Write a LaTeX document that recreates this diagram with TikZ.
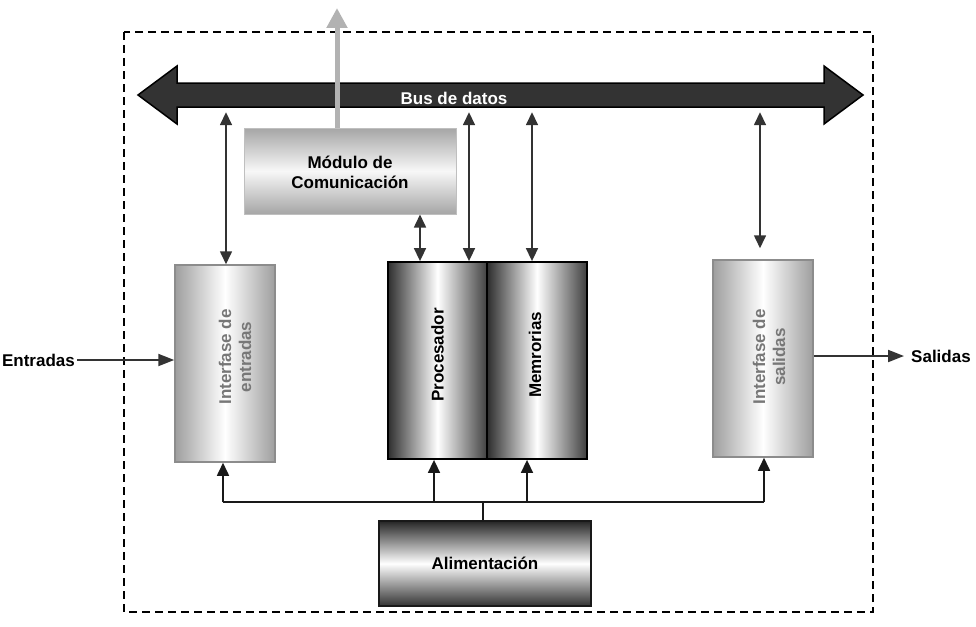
\documentclass[tikz,border=0pt]{standalone}
\usepackage{fontspec}
\setmainfont{Liberation Sans}
\usetikzlibrary{arrows.meta,calc}
\definecolor{busfill}{HTML}{333333}
\definecolor{linec}{HTML}{333333}
\definecolor{ifacetxt}{HTML}{777777}
\begin{document}
\begin{tikzpicture}[x=1pt,y=-1pt,
  txt/.style={font=\fontsize{17}{20}\selectfont\bfseries, align=center},
  iface/.style={draw=gray!90, line width=1.5pt, minimum width=100pt, minimum height=197pt, inner sep=0pt,
     left color=black!38, right color=black!38, middle color=white},
  cpu/.style={draw=black, line width=1.8pt, minimum width=99.5pt, minimum height=197pt, inner sep=0pt,
     left color=black!82, right color=black!75, middle color=white},
  dbl/.style={linec, line width=1.6pt, {Triangle[width=12pt,length=13pt]}-{Triangle[width=12pt,length=13pt]}},
  pw/.style={black!90, line width=1.6pt, -{Triangle[width=12pt,length=13pt]}},
  io/.style={linec, line width=2pt, -{Triangle[width=12pt,length=16pt]}}
]
\useasboundingbox (0,0) rectangle (976,626);
% frame
\draw[line width=1.5pt, dash pattern=on 8pt off 5pt] (124,32) rectangle (873,612);
% data bus
\draw[fill=busfill, draw=black, line width=1.5pt]
  (138,95) -- (177,66) -- (177,83) -- (824,83) -- (824,66) -- (863,95)
  -- (824,124) -- (824,107) -- (177,107) -- (177,124) -- cycle;
\node[minimum width=647pt, minimum height=24pt, inner sep=0pt] (bus) at (500.5,95) {};
\node[txt, text=white, inner sep=0pt] (buslabel) at (454,98) {Bus de datos};
% boxes
\node[draw=black!25, line width=1pt, minimum width=212pt, minimum height=86pt, inner sep=0pt,
      top color=black!35, bottom color=black!35, middle color=black!3] (com) at (350,171) {};
\node[txt] (comtxt) at (350,172) {Módulo de\\Comunicación};
\node[iface] (ent) at (225,363.5) {};
\node[txt, text=ifacetxt, rotate=90] (enttxt) at (235,357) {Interfase de\\entradas};
\node[iface] (sal) at (763,358.5) {};
\node[txt, text=ifacetxt, rotate=90] (saltxt) at (769,357) {Interfase de\\salidas};
\node[cpu] (proc) at (437.5,360.5) {};
\node[txt, rotate=90] (proctxt) at (437.5,355) {Procesador};
\node[cpu] (mem) at (537,360.5) {};
\node[txt, rotate=90] (memtxt) at (535,355) {Memrorias};
\node[draw=black!90, line width=1.5pt, minimum width=212pt, minimum height=85pt, inner sep=0pt,
      top color=black!85, bottom color=black!80, middle color=white] (ali) at (485,563.5) {};
\node[txt] (alitxt) at (485,563) {Alimentación};
% communication out
\coordinate (comout) at (337,8);
\draw[black!30, line width=5pt, -{Triangle[width=20pt,length=20pt]}] ([xshift=-13pt]com.north) -- (comout);
% bus connections
\draw[dbl, shorten <=5pt] ([xshift=1pt]ent.north |- bus.south) -- ([xshift=1pt]ent.north);
\draw[dbl, shorten <=5pt] ([xshift=31.5pt]proc.north |- bus.south) -- ([xshift=31.5pt]proc.north);
\draw[dbl, shorten <=5pt] ([xshift=-5pt]mem.north |- bus.south) -- ([xshift=-5pt]mem.north);
\draw[dbl, shorten <=5pt, shorten >=11pt] ([xshift=-3pt]sal.north |- bus.south) -- ([xshift=-3pt]sal.north);
\draw[dbl] ([xshift=70pt]com.south) -- ([xshift=-17.5pt]proc.north);
% power
\coordinate (pj) at ([xshift=-2pt,yshift=18pt]ali.north);
\draw[black!90, line width=1.6pt] ([xshift=-2pt]ali.north) -- (pj);
\draw[black!90, line width=1.6pt] ([xshift=-2pt]ent.south |- pj) -- ([xshift=1pt]sal.south |- pj);
\draw[pw] ([xshift=-2pt]ent.south |- pj) -- ([xshift=-2pt]ent.south);
\draw[pw] ([xshift=-3.5pt]proc.south |- pj) -- ([xshift=-3.5pt]proc.south);
\draw[pw] ([xshift=-10pt]mem.south |- pj) -- ([xshift=-10pt]mem.south);
\draw[pw] ([xshift=1pt]sal.south |- pj) -- ([xshift=1pt]sal.south);
% inputs / outputs
\node[txt, anchor=east, inner sep=0pt] (lin) at (75,360) {Entradas};
\draw[io] ([xshift=2pt]lin.east) -- (lin.east -| ent.west);
\node[txt, anchor=west, inner sep=0pt] (lout) at (911,356) {Salidas};
\draw[io] (sal.east |- lout.west) -- ([xshift=-7pt]lout.west);
\end{tikzpicture}
\end{document}
